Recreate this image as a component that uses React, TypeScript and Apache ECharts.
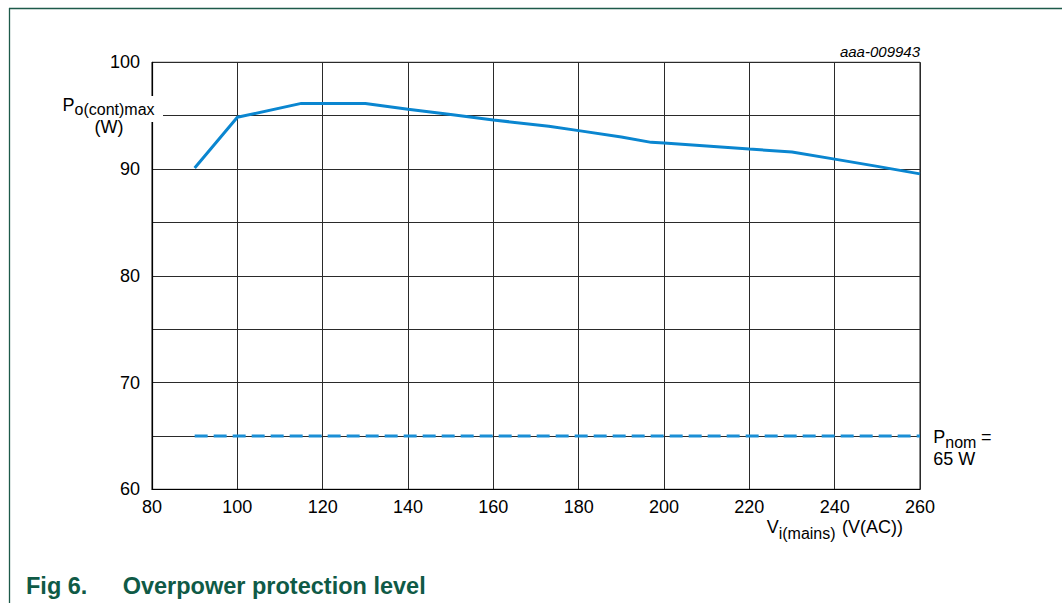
import React, { useEffect, useRef } from "react";
import * as echarts from "echarts";

// Data
const mainsVoltage = [90, 100, 115, 130, 140, 150, 160, 173, 180, 190, 197, 200, 210, 220, 230, 240, 250, 260];
const maxPower = [90.1, 94.85, 96.15, 96.15, 95.6, 95.1, 94.6, 94.0, 93.6, 93.0, 92.5, 92.43, 92.15, 91.87, 91.6, 90.93, 90.25, 89.55];
const nominalVoltage = [90, 260];
const nominalPower = 65;
const yLabelTicks = [60, 70, 80, 90, 100];

const FONT = "'Liberation Sans', Arial, Helvetica, sans-serif";
const GREEN = "#0f5a46";

export default function App() {
  const ref = useRef<HTMLDivElement>(null);
  useEffect(() => {
    if (!ref.current) return;
    const chart = echarts.init(ref.current, undefined, { renderer: "svg" });
    const txt = (x: number, y: number, text: string, size: number, align: string = "left", extra: any = {}) => ({
      type: "text",
      x,
      y,
      z: 100,
      style: {
        text,
        fontSize: size,
        lineHeight: size,
        fontFamily: FONT,
        fill: "#000",
        align,
        verticalAlign: "middle",
        ...extra,
      },
    });
    chart.setOption({
      animation: false,
      backgroundColor: "#fff",
      grid: {
        left: 152,
        top: 62.3,
        right: 142,
        bottom: 113.7,
        show: true,
        borderColor: "#111",
        borderWidth: 1,
      },
      xAxis: {
        type: "value",
        min: 80,
        max: 260,
        interval: 20,
        axisLine: { show: true, onZero: false, lineStyle: { color: "#000", width: 1.2 } },
        axisTick: { show: false },
        axisLabel: { margin: 9, fontSize: 18, fontFamily: FONT, color: "#000" },
        splitLine: { show: true, lineStyle: { color: "#2a2a2a", width: 1 } },
      },
      yAxis: {
        type: "value",
        min: 60,
        max: 100,
        interval: 5,
        axisLine: { show: true, onZero: false, lineStyle: { color: "#000", width: 1.2 } },
        axisTick: { show: false },
        axisLabel: {
          margin: 12,
          fontSize: 18,
          fontFamily: FONT,
          color: "#000",
          formatter: (v: number) => (yLabelTicks.includes(v) ? String(v) : ""),
        },
        splitLine: { show: true, lineStyle: { color: "#2a2a2a", width: 1 } },
      },
      series: [
        {
          type: "line",
          data: mainsVoltage.map((v, i) => [v, maxPower[i]]),
          symbol: "none",
          lineStyle: { color: "#0a86d0", width: 3 },
          z: 5,
        },
        {
          type: "line",
          data: nominalVoltage.map((v) => [v, nominalPower]),
          symbol: "none",
          lineStyle: { color: "#1b8fd6", width: 3, type: [13, 6] },
          z: 5,
        },
      ],
      graphic: [
        // frame
        { type: "line", z: 100, shape: { x1: 9.5, y1: 8, x2: 9.5, y2: 603 }, style: { stroke: "#1d5a4a", lineWidth: 1.3 } },
        { type: "line", z: 100, shape: { x1: 9, y1: 8.5, x2: 1062, y2: 8.5 }, style: { stroke: "#1d5a4a", lineWidth: 1.3 } },
        // y-axis title background
        { type: "rect", z: 99, shape: { x: 56, y: 96, width: 107, height: 26 }, style: { fill: "#fff" } },
        txt(62.5, 104.7, "P", 18),
        txt(74.5, 109.8, "o(cont)max", 16),
        txt(109, 126.5, "(W)", 18, "center"),
        // code
        txt(920, 51.5, "aaa-009943", 15, "right", { fontStyle: "italic" }),
        // x-axis title
        txt(766.7, 527, "V", 18),
        txt(778.7, 533, "i(mains)", 16),
        txt(903, 527, "(V(AC))", 18, "right"),
        // Pnom label
        txt(933.3, 437, "P", 18),
        txt(945.3, 442, "nom", 16),
        txt(981, 437, "=", 18),
        txt(933.3, 458.7, "65 W", 18),
        // figure title
        txt(26, 586, "Fig 6.", 23.5, "left", { fontWeight: "bold", fill: GREEN }),
        txt(122.7, 586, "Overpower protection level", 23.5, "left", { fontWeight: "bold", fill: GREEN }),
      ],
    });
    return () => chart.dispose();
  }, []);
  return (
    <div
      ref={ref}
      style={{ position: "fixed", left: 0, top: 0, width: 1062, height: 603, background: "#fff" }}
    />
  );
}
